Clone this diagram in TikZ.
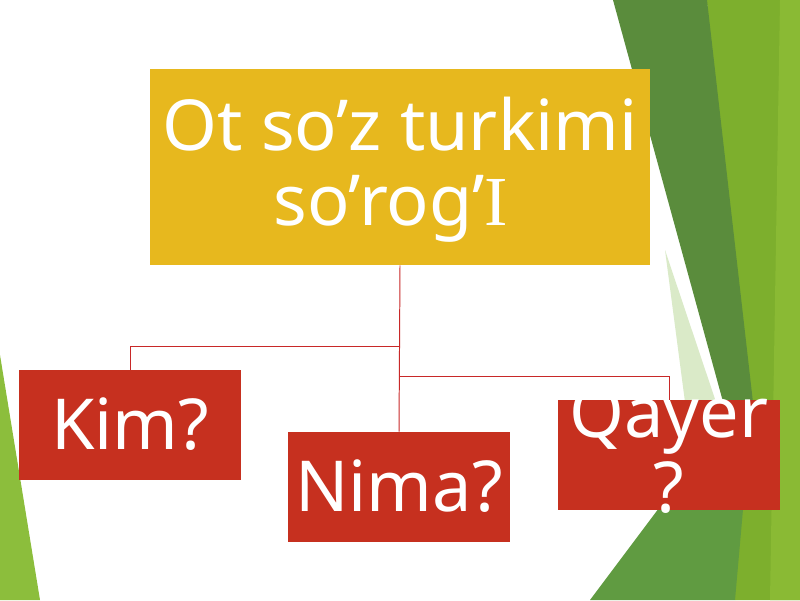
\documentclass[tikz,border=0pt]{standalone}
\usepackage{fontspec}
\setmainfont{Noto Sans}
\newfontfamily\serifI{Liberation Serif}
\definecolor{leafdark}{RGB}{90,140,60}
\definecolor{leaflight}{RGB}{125,175,45}
\definecolor{leafright}{RGB}{138,186,52}
\definecolor{leafmid}{RGB}{96,155,65}
\definecolor{leafpale}{RGB}{218,234,200}
\definecolor{leafleft}{RGB}{140,190,60}
\definecolor{titlegold}{RGB}{231,184,30}
\definecolor{boxred}{RGB}{198,48,31}
\definecolor{linkred}{RGB}{200,40,40}
\begin{document}
\begin{tikzpicture}[x=0.025cm, y=-0.025cm, title node/.style={rectangle,fill=titlegold,minimum width=500*0.025cm,minimum height=196*0.025cm,inner sep=0pt}, ask node/.style={rectangle,fill=boxred,minimum width=222*0.025cm,minimum height=110*0.025cm,inner sep=0pt}, big text/.style={text=white,align=center,inner sep=0pt,font=\fontsize{50}{53.3}\selectfont}, link/.style={draw=linkred,line width=0.7pt}]
\useasboundingbox (0,0) rectangle (800,600);
\fill[white] (0,0) rectangle (800,600);
\fill[leaflight] (707,0) -- (800,0) -- (800,600) -- (735,600) -- cycle;
\fill[leafright] (780,0) -- (800,0) -- (800,600) -- (770,600) -- cycle;
\fill[leafdark] (613,0) -- (707,0) -- (755,420) -- (728,420) -- cycle;
\fill[leafpale] (665,250) -- (722,420) -- (690,440) -- cycle;
\fill[leafpale] (615,600) -- (660,505) -- (700,515) -- cycle;
\fill[leafmid] (590,600) -- (680,480) -- (750,430) -- (735,600) -- cycle;
\fill[leafleft] (0,355) -- (40,600) -- (0,600) -- cycle;
\node[title node] (t) at (400,167) {};
\node[ask node] (k) at (130,425) {};
\node[ask node] (n) at (399,487) {};
\node[ask node] (q) at (669,455) {};
\node[big text] (tt) at (400,170) {Ot so’z turkimi\\so’rog’{\serifI I}\kern0.26em};
\node[big text] (kt) at (130,424) {Kim?};
\node[big text] (nt) at (399,486) {Nima?};
\node[big text] (qt) at (669,450) {Qayer\\?};
\draw[link] (t.south) -- (n.north);
\draw[link] (t.south) ++(0,81) -| (k.north);
\draw[link] (t.south) ++(0,111) -| (q.north);
\end{tikzpicture}
\end{document}
